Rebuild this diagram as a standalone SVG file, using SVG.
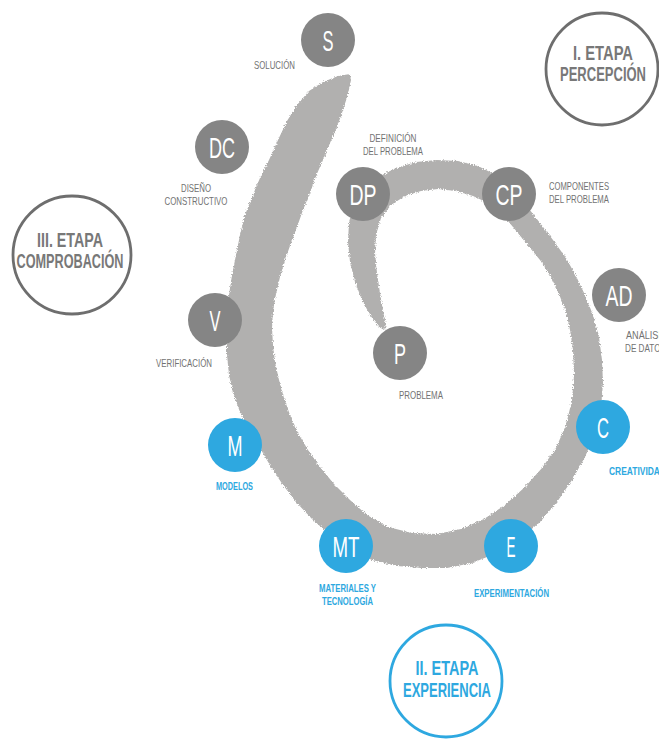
<svg xmlns="http://www.w3.org/2000/svg" width="659" height="744" viewBox="0 0 659 744">
<defs>
<style>
.gn{fill:#858585}
.bn{fill:#2ea8e0}
.lt{font-family:"Liberation Sans",Arial,sans-serif;font-size:29.5px;fill:#ffffff;text-anchor:middle}
.lb{font-family:"Liberation Sans",Arial,sans-serif;font-size:11.8px;fill:#727272}
.lbb{font-family:"Liberation Sans",Arial,sans-serif;font-size:11.8px;fill:#2ea8e0;font-weight:bold}
.c{text-anchor:middle}
.st{font-family:"Liberation Sans",Arial,sans-serif;font-size:20px;font-weight:bold;text-anchor:middle}
.ring{fill:#ffffff;stroke-width:2.8}
</style>
<filter id="rough" x="-10%" y="-10%" width="120%" height="120%">
<feTurbulence type="fractalNoise" baseFrequency="0.9" numOctaves="2" seed="3" result="n"/>
<feDisplacementMap in="SourceGraphic" in2="n" scale="4" xChannelSelector="R" yChannelSelector="G"/>
</filter>
</defs>
<rect width="659" height="744" fill="#ffffff"/>

<g id="connectors">
<path id="spiral" fill="#b1b0af" filter="url(#rough)" d="M350,74 L338,76 L323,82 L309,91 L297,105 L287,121 L278,140 L269,160 L260,178 L252,197 L245,215 L240,235 L236,255 L232,275 L229,295 L227,315 L227,335 L227,355 L229,375 L233,393 L240,412 L250,430 L260,448 L271,467 L283,485 L296,502 L312,519 L330,535 L350,550 L372,560 L397,566 L422,568 L447,568 L472,563 L497,553 L520,539 L540,522 L557,502 L572,480 L585,457 L595,433 L601,408 L603,383 L602,360 L599,337 L593,315 L585,295 L576,276 L566,258 L553,240 L540,223 L526,205 L512,188 L496,175 L478,166 L458,161 L437,160 L416,162 L396,168 L378,177 L363,190 L354,205 L349,222 L348,242 L350,262 L355,282 L362,300 L370,315 L378,326 L384,330 L386,325 L383,310 L380,293 L377,273 L375,253 L376,235 L381,218 L391,205 L405,196 L421,191 L438,189 L456,191 L473,196 L488,203 L501,213 L513,227 L526,243 L540,260 L551,277 L559,294 L566,312 L570,330 L573,350 L574,375 L572,400 L566,425 L556,448 L542,468 L525,487 L505,505 L484,519 L461,529 L437,534 L412,533 L388,527 L367,515 L350,500 L334,484 L320,467 L308,450 L298,433 L290,415 L284,398 L279,380 L275,362 L273,345 L272,328 L273,311 L276,294 L280,277 L285,260 L291,243 L297,227 L303,210 L310,193 L316,176 L323,160 L330,143 L337,127 L343,110 L348,94 L351,80 Z"/>
</g>

<g id="stage-1">
<circle class="ring" cx="602" cy="69" r="56" stroke="#6e6e6e"/>
<text class="st" x="603" y="60" fill="#787878" textLength="60" lengthAdjust="spacingAndGlyphs">I. ETAPA</text>
<text class="st" x="603" y="81" fill="#787878" textLength="86" lengthAdjust="spacingAndGlyphs">PERCEPCIÓN</text>
</g>
<g id="stage-3">
<circle class="ring" cx="72" cy="255" r="59" stroke="#6e6e6e"/>
<text class="st" x="70" y="247" fill="#787878" textLength="66" lengthAdjust="spacingAndGlyphs">III. ETAPA</text>
<text class="st" x="70" y="268" fill="#787878" textLength="107" lengthAdjust="spacingAndGlyphs">COMPROBACIÓN</text>
</g>
<g id="stage-2">
<circle class="ring" cx="446" cy="681" r="56" stroke="#2ea8e0"/>
<text class="st" x="447" y="675" fill="#2ea8e0" textLength="63" lengthAdjust="spacingAndGlyphs">II. ETAPA</text>
<text class="st" x="447" y="697" fill="#2ea8e0" textLength="88" lengthAdjust="spacingAndGlyphs">EXPERIENCIA</text>
</g>

<g id="node-S">
<circle class="gn" cx="328" cy="40" r="27"/>
<text class="lt" x="328" y="50.5" textLength="11" lengthAdjust="spacingAndGlyphs">S</text>
<text class="lb" x="254" y="69" textLength="41" lengthAdjust="spacingAndGlyphs">SOLUCIÓN</text>
</g>
<g id="node-DC">
<circle class="gn" cx="222" cy="147" r="27"/>
<text class="lt" x="222" y="157.5" textLength="26" lengthAdjust="spacingAndGlyphs">DC</text>
<text class="lb c" x="196" y="192" textLength="30" lengthAdjust="spacingAndGlyphs">DISEÑO</text>
<text class="lb c" x="196" y="204.5" textLength="63" lengthAdjust="spacingAndGlyphs">CONSTRUCTIVO</text>
</g>
<g id="node-DP">
<circle class="gn" cx="363" cy="194" r="27"/>
<text class="lt" x="363" y="204.5" textLength="27" lengthAdjust="spacingAndGlyphs">DP</text>
<text class="lb c" x="393" y="142" textLength="47" lengthAdjust="spacingAndGlyphs">DEFINICIÓN</text>
<text class="lb c" x="393" y="154.5" textLength="60" lengthAdjust="spacingAndGlyphs">DEL PROBLEMA</text>
</g>
<g id="node-CP">
<circle class="gn" cx="509" cy="194" r="27"/>
<text class="lt" x="509" y="204.5" textLength="27" lengthAdjust="spacingAndGlyphs">CP</text>
<text class="lb" x="549" y="190" textLength="60" lengthAdjust="spacingAndGlyphs">COMPONENTES</text>
<text class="lb" x="549" y="202.5" textLength="60" lengthAdjust="spacingAndGlyphs">DEL PROBLEMA</text>
</g>
<g id="node-AD">
<circle class="gn" cx="619" cy="295" r="27"/>
<text class="lt" x="619" y="305.5" textLength="27" lengthAdjust="spacingAndGlyphs">AD</text>
<text class="lb" x="626" y="339" textLength="41" lengthAdjust="spacingAndGlyphs">ANÁLISIS</text>
<text class="lb" x="625" y="351.5" textLength="41" lengthAdjust="spacingAndGlyphs">DE DATOS</text>
</g>
<g id="node-V">
<circle class="gn" cx="215" cy="320" r="27"/>
<text class="lt" x="215" y="330.5" textLength="11" lengthAdjust="spacingAndGlyphs">V</text>
<text class="lb" x="156" y="367" textLength="56" lengthAdjust="spacingAndGlyphs">VERIFICACIÓN</text>
</g>
<g id="node-P">
<circle class="gn" cx="400" cy="353" r="27"/>
<text class="lt" x="400" y="363.5" textLength="12" lengthAdjust="spacingAndGlyphs">P</text>
<text class="lb" x="399" y="399" textLength="44" lengthAdjust="spacingAndGlyphs">PROBLEMA</text>
</g>
<g id="node-M">
<circle class="bn" cx="235" cy="445" r="27"/>
<text class="lt" x="235" y="455.5" textLength="15" lengthAdjust="spacingAndGlyphs">M</text>
<text class="lbb" x="216" y="490" textLength="37" lengthAdjust="spacingAndGlyphs">MODELOS</text>
</g>
<g id="node-C">
<circle class="bn" cx="603" cy="427" r="27"/>
<text class="lt" x="603" y="437.5" textLength="12" lengthAdjust="spacingAndGlyphs">C</text>
<text class="lbb" x="609" y="475" textLength="57" lengthAdjust="spacingAndGlyphs">CREATIVIDAD</text>
</g>
<g id="node-MT">
<circle class="bn" cx="346" cy="546" r="27"/>
<text class="lt" x="346" y="556.5" textLength="27" lengthAdjust="spacingAndGlyphs">MT</text>
<text class="lbb c" x="347.5" y="592" textLength="57" lengthAdjust="spacingAndGlyphs">MATERIALES Y</text>
<text class="lbb c" x="347.5" y="604.5" textLength="51" lengthAdjust="spacingAndGlyphs">TECNOLOGÍA</text>
</g>
<g id="node-E">
<circle class="bn" cx="511" cy="546" r="27"/>
<text class="lt" x="511" y="556.5" textLength="9" lengthAdjust="spacingAndGlyphs">E</text>
<text class="lbb c" x="511.5" y="597" textLength="75" lengthAdjust="spacingAndGlyphs">EXPERIMENTACIÓN</text>
</g>
</svg>
